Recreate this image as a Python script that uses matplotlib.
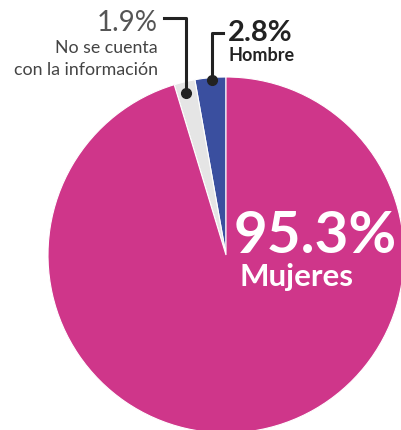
import matplotlib.pyplot as plt

# data
labels = ['Hombre', 'No se cuenta\ncon la información', 'Mujeres']
values = [2.8, 1.9, 95.3]
colors = ['#3a4f9f', '#e5e5e5', '#cf368a']

fig = plt.figure(figsize=(4.01, 4.30), dpi=100)
ax = fig.add_axes([0, 0, 1, 1])

# pie drawn in pixel coords (y axis points down, so the direction is flipped)
ax.pie(values, colors=colors, startangle=-90, counterclock=False,
       center=(226, 255), radius=178, frame=True,
       wedgeprops=dict(edgecolor='white', linewidth=0.8))
ax.set_xlim(0, 401)
ax.set_ylim(430, 0)
ax.axis('off')

fam = ['Lato', 'DejaVu Sans']

# Hombre callout
ax.plot([212, 212, 223], [80, 33, 33], color='#222222', lw=2.2)
ax.plot(212, 80, 'o', color='#222222', ms=7)
ax.text(228, 41, '2.8%', fontsize=21, fontweight='bold', color='#222222',
        family=fam, va='baseline', ha='left')
ax.text(229, 61, 'Hombre', fontsize=13, fontweight='bold', color='#222222',
        family=fam, va='baseline', ha='left')

# No info callout
ax.plot([164, 186, 186], [18, 18, 93], color='#222222', lw=2.2)
ax.plot(186, 93, 'o', color='#222222', ms=7)
ax.text(158, 31, '1.9%', fontsize=20, fontweight='normal', color='#555555',
        family=fam, va='baseline', ha='right')
ax.text(158, 53, 'No se cuenta', fontsize=12.8, color='#444444',
        family=fam, va='baseline', ha='right')
ax.text(158, 75, 'con la información', fontsize=12.8, color='#444444',
        family=fam, va='baseline', ha='right')

# Mujeres label
ax.text(234, 253, '95.3%', fontsize=42, fontweight='bold', color='white',
        family=fam, va='baseline', ha='left')
ax.text(240, 286, 'Mujeres', fontsize=22.5, fontweight='bold', color='white',
        family=fam, va='baseline', ha='left')

fig.savefig('out.png', dpi=100)
